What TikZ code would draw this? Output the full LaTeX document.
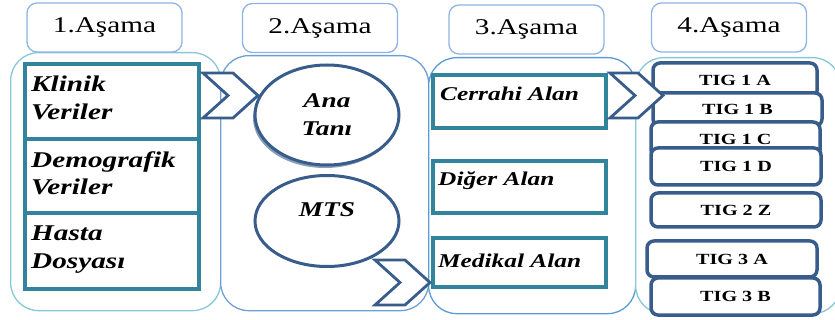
\documentclass[tikz,border=0pt]{standalone}
\usepackage{fontspec}
\setmainfont{Liberation Serif}[FakeStretch=1.3]
\usetikzlibrary{positioning,shapes.geometric,shapes.symbols,shadows}
\definecolor{hdrblue}{HTML}{8EB4E3}
\definecolor{colcyan}{HTML}{86C7D8}
\definecolor{colblue}{HTML}{6E9FD5}
\definecolor{colmid}{HTML}{5B9BD5}
\definecolor{datateal}{HTML}{31849B}
\definecolor{navy1}{HTML}{385D8A}
\tikzset{
	hdr/.style = {
			draw = hdrblue, line width = 1.3pt, rounded corners = 10pt, fill = white,
			minimum width = 155pt, minimum height = 49pt,
			font = \fontsize{22.5}{27}\selectfont
		},
	colbox/.style = {
			line width = 1.3pt, rounded corners = 28pt, fill = white,
			anchor = north west
		},
	databox/.style = {
			draw = datateal, line width = 3.5pt, fill = white, outer sep = 0pt,
			minimum width = 174pt, anchor = north west
		},
	datatext/.style = {
			anchor = north west, inner sep = 0pt, align = left,
			font = \fontsize{22.5}{27.5}\selectfont\bfseries\itshape
		},
	alantext/.style = {
			anchor = north west, inner sep = 0pt,
			font = \fontsize{19.5}{24}\selectfont\bfseries\itshape
		},
	tani/.style = {
			ellipse, draw = navy1, line width = 3pt, fill = white,
			minimum width = 144pt, align = center,
			font = \fontsize{21}{28}\selectfont\bfseries\itshape
		},
	chev/.style = {
			signal, signal to = east, signal from = west, signal pointer angle = 84,
			draw = navy1, line width = 2.8pt, fill = white, inner sep = 0pt,
			minimum width = 55pt, minimum height = 45pt
		},
	tig/.style = {
			draw = navy1, line width = 3.5pt, rounded corners = 7pt, fill = white,
			font = \fontsize{15.5}{18}\selectfont\bfseries
		}
}
\begin{document}
\begin{tikzpicture}[x=1pt, y=-1pt]
	\clip (0,0) rectangle (835,320);
	\node[colbox, draw=colcyan, minimum width=210pt, minimum height=258pt] (c1) at (10,52) {};
	\node[colbox, draw=colblue, minimum width=208pt, minimum height=255pt] (c2) at (220,55) {};
	\node[colbox, draw=colmid, minimum width=207pt, minimum height=256pt] (c3) at (428,57) {};
	\node[colbox, draw=colcyan, minimum width=205pt, minimum height=256pt] (c4) at (635,57) {};

	\node[hdr] (h1) at (104.5,27.5) {1.Aşama};
	\node[hdr] (h2) at (320,28) {2.Aşama};
	\node[hdr] (h3) at (526.5,29.5) {3.Aşama};
	\node[hdr] (h4) at (729,27.5) {4.Aşama};

	\node[databox, minimum height=75pt] (klinik) at (25,64) {};
	\node[databox, minimum height=74pt, below=0pt of klinik] (demo) {};
	\node[databox, minimum height=76pt, below=0pt of demo] (hasta) {};
	\node[datatext] (klinikt) at ([shift={(6,12)}]klinik.north west) {Klinik\\Veriler};
	\node[datatext] (demot) at ([shift={(6,12)}]demo.north west) {Demografik\\Veriler};
	\node[datatext] (hastat) at ([shift={(6,13)}]hasta.north west) {Hasta\\Dosyası};

	\node[tani, minimum height=100pt,
		drop shadow={shadow xshift=-2pt, shadow yshift=-3pt, fill=navy1!75!white, opacity=.8}] (ana) at (327,115) {Ana\\Tanı};
	\node[tani, minimum height=91pt, text depth=22pt] (mts) at (327,221) {MTS};

	\node[databox, minimum width=173pt, minimum height=53pt] (cerrahi) at (433,75) {};
	\node[databox, minimum width=173pt, minimum height=52pt] (diger) at (433,161) {};
	\node[databox, minimum width=173pt, minimum height=49pt] (medikal) at (433,238) {};
	\node[alantext] (cerrahit) at ([shift={(7,11.5)}]cerrahi.north west) {Cerrahi Alan};
	\node[alantext] (digert) at ([shift={(5,10.7)}]diger.north west) {Diğer Alan};
	\node[alantext] (medikalt) at ([shift={(5,15.7)}]medikal.north west) {Medikal Alan};

	\node[tig, minimum width=164pt, minimum height=35pt] (t1a) at (735,80.5) {TIG 1 A};
	\node[tig, minimum width=169pt, minimum height=33pt] (t1b) at (737.5,109.5) {TIG 1 B};
	\node[tig, minimum width=169pt, minimum height=35pt] (t1c) at (735.5,139.5) {TIG 1 C};
	\node[tig, minimum width=170pt, minimum height=37pt] (t1d) at (736,166.5) {TIG 1 D};
	\node[tig, minimum width=170pt, minimum height=34pt] (t2z) at (736,210) {TIG 2 Z};
	\node[tig, minimum width=170pt, minimum height=36pt] (t3a) at (732,259) {TIG 3 A};
	\node[tig, minimum width=169pt, minimum height=37pt] (t3b) at (735.5,296.5) {TIG 3 B};

	\node[chev] (ar1) at (230.5,95.5) {};
	\node[chev] (ar2) at (402.5,282.5) {};
	\node[chev, minimum width=53pt] (ar3) at (636.5,95.5) {};
\end{tikzpicture}
\end{document}
